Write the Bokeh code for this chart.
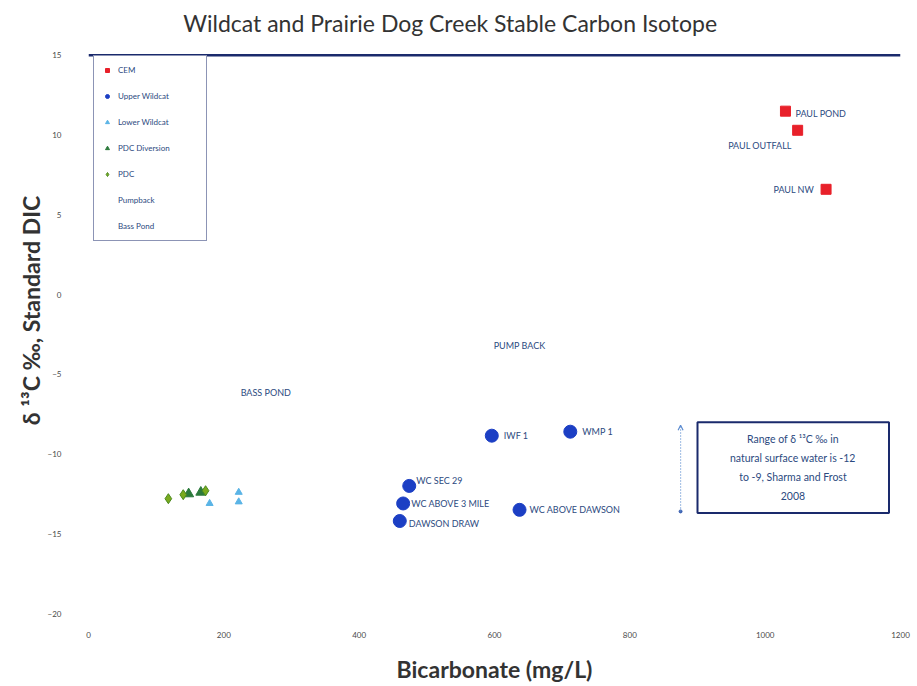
from bokeh.plotting import figure
from bokeh.models import (ColumnDataSource, FixedTicker, Legend, LegendItem, Span,
                          Arrow, OpenHead)
from bokeh.core.properties import value
from bokeh.embed import file_html
from bokeh.resources import INLINE

FONT = "Lato"

# --- data: bicarbonate (mg/L) vs delta 13C (per mil) ---
cem_x = [1030, 1048, 1090]
cem_y = [11.5, 10.3, 6.6]
cem_names = ["PAUL POND", "PAUL OUTFALL", "PAUL NW"]

upper_x = [596, 712, 474, 465, 637, 460]
upper_y = [-8.85, -8.6, -12.0, -13.1, -13.5, -14.2]
upper_names = ["IWF 1", "WMP 1", "WC SEC 29", "WC ABOVE 3 MILE", "WC ABOVE DAWSON", "DAWSON DRAW"]

lower_x = [179, 222, 222]
lower_y = [-13.1, -12.4, -13.0]

pdc_div_x = [148, 166]
pdc_div_y = [-12.5, -12.4]

pdc_x = [118, 140, 173]
pdc_y = [-12.8, -12.55, -12.3]

pump_x = [587]
pump_y = [-3.2]
pump_names = ["PUMP BACK"]

bass_x = [213]
bass_y = [-6.15]
bass_names = ["BASS POND"]

# natural surface water range note
range_x = [875]
range_low = [-13.6]
range_high = [-8.2]
note_text = ["Range of δ ¹³C ‰ in\nnatural surface water is -12\nto -9, Sharma and Frost\n2008"]

title_text = ["Wildcat and Prairie Dog Creek Stable Carbon Isotope"]

x_ticks = [0, 200, 400, 600, 800, 1000, 1200]
y_ticks = [-20, -15, -10, -5, 0, 5, 10, 15]

LABEL_COLOR = "#2c4a80"
NAVY = "#1a2a6c"

# the frame reaches above the 15 line so the heading sits inside it
p = figure(width=917, height=686, x_range=(0, 1200), y_range=(-20, 18),
           output_backend="svg", toolbar_location=None,
           min_border_left=88, min_border_right=17, min_border_top=7, min_border_bottom=73)
p.outline_line_color = None
p.grid.grid_line_color = None
p.background_fill_color = "white"

# heading
p.text([140], [17.05], text=title_text, text_font=value(FONT), text_font_size="23px",
       text_color="#333333", text_align="left", text_baseline="middle")

# axes
p.xaxis.ticker = FixedTicker(ticks=x_ticks)
p.yaxis.ticker = FixedTicker(ticks=y_ticks)
for ax in (p.xaxis, p.yaxis):
    ax.axis_line_color = None
    ax.major_tick_line_color = None
    ax.minor_tick_line_color = None
    ax.major_label_text_font = FONT
    ax.major_label_text_font_size = "8px"
    ax.major_label_text_color = "#4a4a4a"
    ax.axis_label_text_font = FONT
    ax.axis_label_text_font_size = "23px"
    ax.axis_label_text_font_style = "bold"
    ax.axis_label_text_color = "#333333"
p.xaxis.axis_label = "Bicarbonate (mg/L)"
p.xaxis.major_label_standoff = 12
p.xaxis.axis_label_standoff = 14
p.yaxis.axis_label = "δ ¹³C ‰, Standard DIC"
p.yaxis.major_label_standoff = 21
p.yaxis.axis_label_standoff = 0

# top border line at the upper limit of the scale
p.add_layout(Span(location=15, dimension="width", line_color=NAVY, line_width=2.5))

# series
r_cem = p.scatter(cem_x, cem_y, marker="square", size=10, fill_color="#e8202a",
                  line_color="#e8202a")
r_up = p.scatter(upper_x, upper_y, marker="circle", size=13, fill_color="#1c3fc4",
                 line_color="#1c3fc4")
r_low = p.scatter(lower_x, lower_y, marker="triangle", size=7, fill_color="#5ab4e6",
                  line_color="#5ab4e6")
r_div = p.scatter(pdc_div_x, pdc_div_y, marker="triangle", size=10, fill_color="#2c7a3c",
                  line_color="#2c7a3c")
r_pdc = p.scatter(pdc_x, pdc_y, marker="diamond", size=10, fill_color="#7aaa1e",
                  line_color="#4a8a1e")
r_pump = p.scatter(pump_x, pump_y, marker="circle", size=8, fill_alpha=0, line_alpha=0)
r_bass = p.scatter(bass_x, bass_y, marker="circle", size=8, fill_alpha=0, line_alpha=0)

# point labels
def add_labels(xs, ys, names, dx, dy, align="left"):
    src = ColumnDataSource(dict(x=xs, y=ys, t=names))
    p.text("x", "y", text="t", source=src, x_offset=dx, y_offset=dy,
           text_font=value(FONT), text_font_size="9px", text_color=LABEL_COLOR,
           text_align=align, text_baseline="middle")

add_labels([cem_x[0]], [cem_y[0]], [cem_names[0]], 10, 2)
add_labels([cem_x[1]], [cem_y[1]], [cem_names[1]], -6, 15, "right")
add_labels([cem_x[2]], [cem_y[2]], [cem_names[2]], -12, 0, "right")
add_labels(upper_x[:2], upper_y[:2], upper_names[:2], 12, 0)
add_labels([upper_x[2]], [upper_y[2]], [upper_names[2]], 7, -5)
add_labels([upper_x[3]], [upper_y[3]], [upper_names[3]], 8, 0)
add_labels([upper_x[4]], [upper_y[4]], [upper_names[4]], 10, 0)
add_labels([upper_x[5]], [upper_y[5]], [upper_names[5]], 9, 2)
add_labels(pump_x, pump_y, pump_names, 8, 0)
add_labels(bass_x, bass_y, bass_names, 8, 0)

# range annotation: dotted arrow and note box
p.add_layout(Arrow(x_start=range_x[0], y_start=range_low[0], x_end=range_x[0], y_end=range_high[0],
                   line_color="#5b8bd0", line_width=1.2, line_dash="1 2",
                   end=OpenHead(size=5, line_color="#5b8bd0", line_width=1.2)))
p.scatter(range_x, range_low, size=3, color="#3a5fb0")
p.quad(left=[900], right=[1183], top=[-8.0], bottom=[-13.7],
       fill_color="white", line_color=NAVY, line_width=2)
p.text([1041], [-10.85], text=note_text,
       text_font=value(FONT), text_font_size="10.5px", text_color=LABEL_COLOR,
       text_align="center", text_baseline="middle", text_line_height=1.6)

legend = Legend(items=[
    LegendItem(label="CEM", renderers=[r_cem]),
    LegendItem(label="Upper Wildcat", renderers=[r_up]),
    LegendItem(label="Lower Wildcat", renderers=[r_low]),
    LegendItem(label="PDC Diversion", renderers=[r_div]),
    LegendItem(label="PDC", renderers=[r_pdc]),
    LegendItem(label="Pumpback", renderers=[r_pump]),
    LegendItem(label="Bass Pond", renderers=[r_bass]),
], location=(5, 372))
legend.margin = 0
legend.padding = 8
legend.spacing = 14
legend.glyph_height = 12
legend.glyph_width = 10
legend.label_height = 12
legend.label_width = 80
legend.label_standoff = 6
legend.label_text_font = FONT
legend.label_text_font_size = "8px"
legend.label_text_color = LABEL_COLOR
legend.border_line_color = NAVY
legend.border_line_alpha = 0.5
legend.background_fill_color = "white"
legend.background_fill_alpha = 1
p.add_layout(legend)

open("out.html", "w").write(file_html(p, INLINE))
